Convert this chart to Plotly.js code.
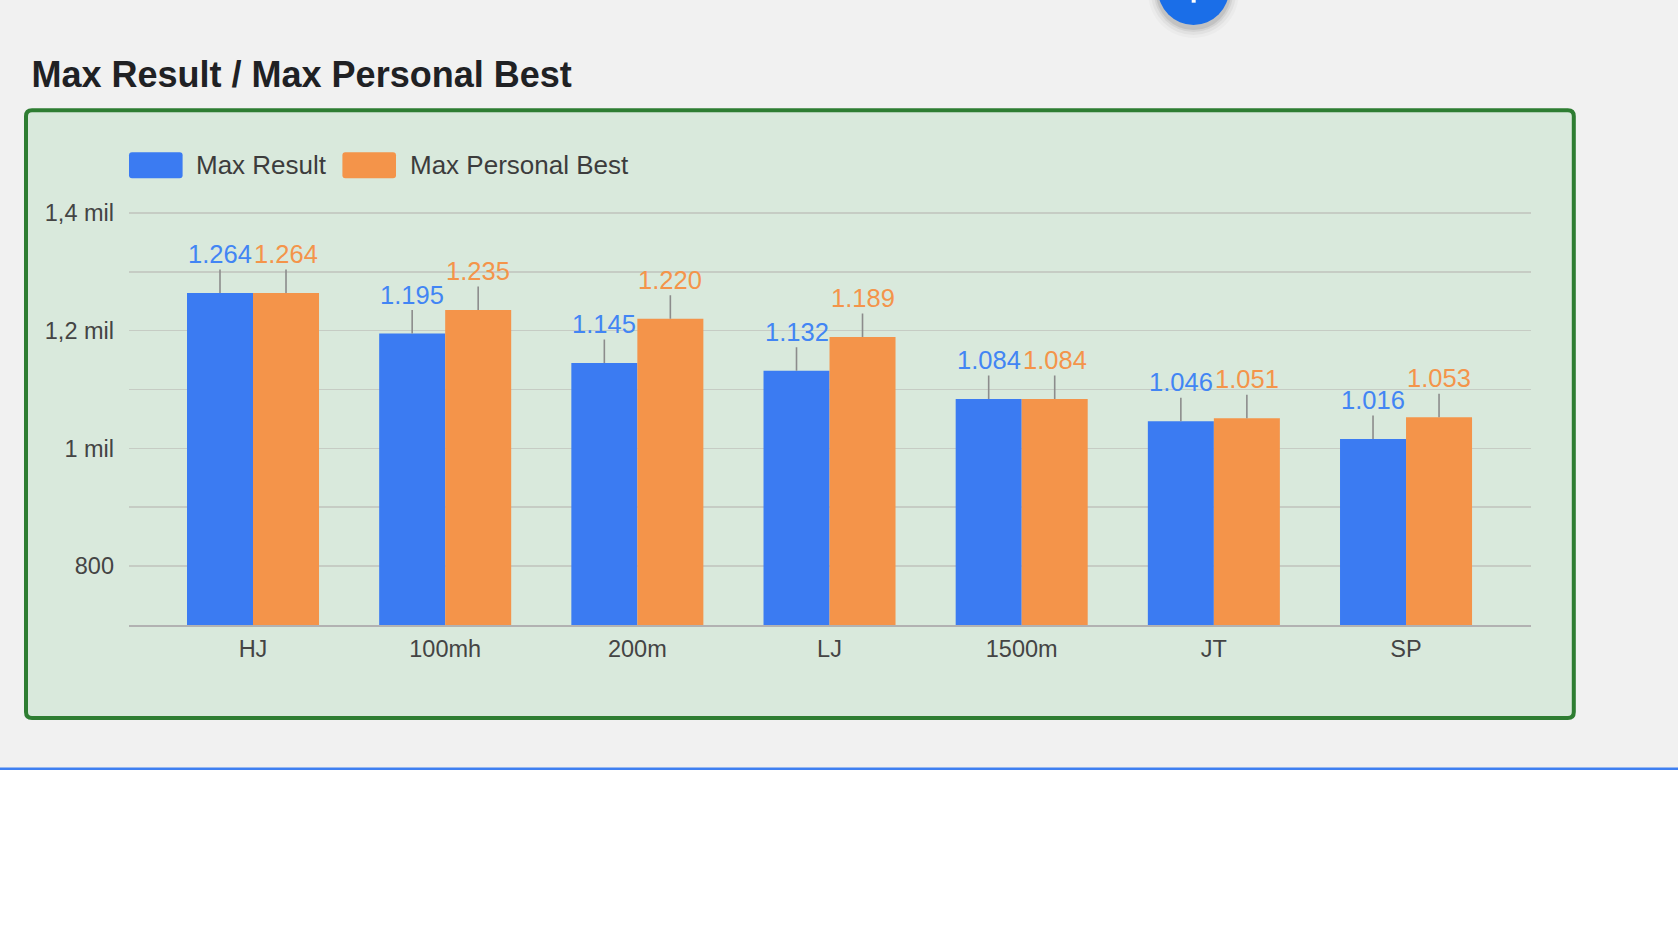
<!DOCTYPE html>
<html>
<head>
<meta charset="utf-8">
<script src="https://cdn.plot.ly/plotly-3.0.1.min.js"></script>
<style>
  html, body { margin: 0; padding: 0; background: #f1f1f1; overflow: hidden; }
  #chart { width: 1678px; height: 932px; }
</style>
</head>
<body>
<div id="chart"></div>
<script>
// ---- data ----
const categories = ["HJ", "100mh", "200m", "LJ", "1500m", "JT", "SP"];
const maxResult = [1264, 1195, 1145, 1132, 1084, 1046, 1016];
const maxPersonalBest = [1264, 1235, 1220, 1189, 1084, 1051, 1053];
const seriesNames = ["Max Result", "Max Personal Best"];
const yTickVals = [800, 900, 1000, 1100, 1200, 1300, 1400];
const yTickText = ["800", "", "1 mil", "", "1,2 mil", "", "1,4 mil"];
const chartTitle = "Max Result / Max Personal Best";

// ---- styling ----
const W = 1678, H = 932;
const M = { l: 129, r: 147, t: 209, b: 307 };
const PW = W - M.l - M.r, PH = H - M.t - M.b;
const px = p => (p - M.l) / PW;          // page x px -> paper
const py = p => (H - M.b - p) / PH;      // page y px -> paper
const FONT = '"Liberation Sans", Arial, Helvetica, sans-serif';
const barColors = ["#3b7bf2", "#f4944a"];
const labelColors = ["#4285f4", "#f4944a"];
const BARGAP = 0.313;

function fmt(v) {
  const s = String(Math.round(v));
  return s.replace(/\B(?=(\d{3})+(?!\d))/g, ".");
}

function roundRect(x0, y0, x1, y1, r) {
  const X = px, Y = py;
  return "M" + X(x0 + r) + "," + Y(y0) +
    " L" + X(x1 - r) + "," + Y(y0) +
    " Q" + X(x1) + "," + Y(y0) + " " + X(x1) + "," + Y(y0 + r) +
    " L" + X(x1) + "," + Y(y1 - r) +
    " Q" + X(x1) + "," + Y(y1) + " " + X(x1 - r) + "," + Y(y1) +
    " L" + X(x0 + r) + "," + Y(y1) +
    " Q" + X(x0) + "," + Y(y1) + " " + X(x0) + "," + Y(y1 - r) +
    " L" + X(x0) + "," + Y(y0 + r) +
    " Q" + X(x0) + "," + Y(y0) + " " + X(x0 + r) + "," + Y(y0) + " Z";
}

const series = [maxResult, maxPersonalBest];
const traces = series.map((vals, i) => ({
  type: "bar",
  name: seriesNames[i],
  x: categories,
  y: vals,
  marker: { color: barColors[i], line: { width: 0 } },
  hoverinfo: "none",
  showlegend: false
}));

// data labels with leader lines
const groupW = 1 - BARGAP;
const annotations = [];
series.forEach((vals, i) => {
  vals.forEach((v, k) => {
    annotations.push({
      xref: "x", yref: "y",
      x: k + (i - 0.5) * groupW / 2,
      y: v,
      text: fmt(v),
      showarrow: true,
      arrowhead: 0,
      arrowwidth: 1.6,
      arrowcolor: "#8c8c8c",
      ax: 0, ay: -39,
      font: { family: FONT, size: 25.5, color: labelColors[i] },
      borderpad: 1
    });
  });
});

// custom legend
const legendItems = [
  { sx0: 129, sx1: 182.6, tx: 193.5 },
  { sx0: 342.4, sx1: 396, tx: 408 }
];
const shapes = [];
// white lower area and blue rule
shapes.push({ type: "rect", xref: "paper", yref: "paper", x0: px(0), x1: px(W), y0: py(769), y1: py(H + 5),
  fillcolor: "#ffffff", line: { width: 0 }, layer: "below" });
shapes.push({ type: "rect", xref: "paper", yref: "paper", x0: px(0), x1: px(W), y0: py(770), y1: py(767.5),
  fillcolor: "#3f80f2", line: { width: 0 }, layer: "below" });
// FAB shadow + circle
[[10, 0.025], [7, 0.04], [4, 0.06], [2, 0.08]].forEach(([d, a]) => {
  shapes.push({ type: "circle", xref: "paper", yref: "paper",
    x0: px(1193.5 - 35.5 - d), x1: px(1193.5 + 35.5 + d),
    y0: py(-10.5 + 3 + 35.5 + d), y1: py(-10.5 + 3 - 35.5 - d),
    fillcolor: "rgba(0,0,0," + a + ")", line: { width: 0 }, layer: "below" });
});
shapes.push({ type: "circle", xref: "paper", yref: "paper",
  x0: px(1158), x1: px(1229), y0: py(25), y1: py(-46),
  fillcolor: "#1a6ee8", line: { width: 0 }, layer: "below" });
shapes.push({ type: "rect", xref: "paper", yref: "paper",
  x0: px(1191.7), x1: px(1195.7), y0: py(2.7), y1: py(-25),
  fillcolor: "#ffffff", line: { width: 0 }, layer: "below" });
// green card
shapes.push({ type: "path", xref: "paper", yref: "paper",
  path: roundRect(26, 110.3, 1573.8, 718, 6),
  fillcolor: "#d9e9dc", line: { color: "#2e7d32", width: 4 }, layer: "below" });
// legend swatches + labels
legendItems.forEach((it, i) => {
  shapes.push({ type: "path", xref: "paper", yref: "paper",
    path: roundRect(it.sx0, 152.3, it.sx1, 178.3, 3),
    fillcolor: barColors[i], line: { width: 0 }, layer: "above" });
  annotations.push({
    xref: "paper", yref: "paper", x: px(it.tx), y: py(164.8),
    xanchor: "left", yanchor: "middle", showarrow: false,
    text: seriesNames[i],
    font: { family: FONT, size: 26, color: "#3c3c3c" }
  });
});

const layout = {
  width: W, height: H,
  margin: M,
  paper_bgcolor: "#f1f1f1",
  plot_bgcolor: "rgba(0,0,0,0)",
  separators: ",.",
  barmode: "group",
  bargap: BARGAP,
  bargroupgap: 0,
  showlegend: false,
  hovermode: false,
  title: {
    text: chartTitle,
    xref: "container", yref: "container",
    x: 31.5 / W, xanchor: "left",
    y: 1 - 74 / H, yanchor: "middle",
    font: { family: FONT, size: 36, color: "#202124", weight: 700 }
  },
  xaxis: {
    type: "category",
    range: [-0.6453, 6.6503],
    showgrid: false,
    zeroline: false,
    showline: true,
    linecolor: "#b2b2b2",
    linewidth: 2,
    ticks: "",
    ticklabelstandoff: 2,
    tickfont: { family: FONT, size: 23.5, color: "#444444" },
    fixedrange: true
  },
  yaxis: {
    range: [700, 1406.5],
    tickvals: yTickVals,
    ticktext: yTickText,
    showgrid: true,
    gridcolor: "#c6ccc4",
    gridwidth: 1.6,
    zeroline: false,
    showline: false,
    ticks: "",
    ticklabelstandoff: 14,
    tickfont: { family: FONT, size: 23.5, color: "#444444" },
    fixedrange: true
  },
  shapes: shapes,
  annotations: annotations
};

Plotly.newPlot("chart", traces, layout, { displayModeBar: false, staticPlot: true });
</script>
</body>
</html>
